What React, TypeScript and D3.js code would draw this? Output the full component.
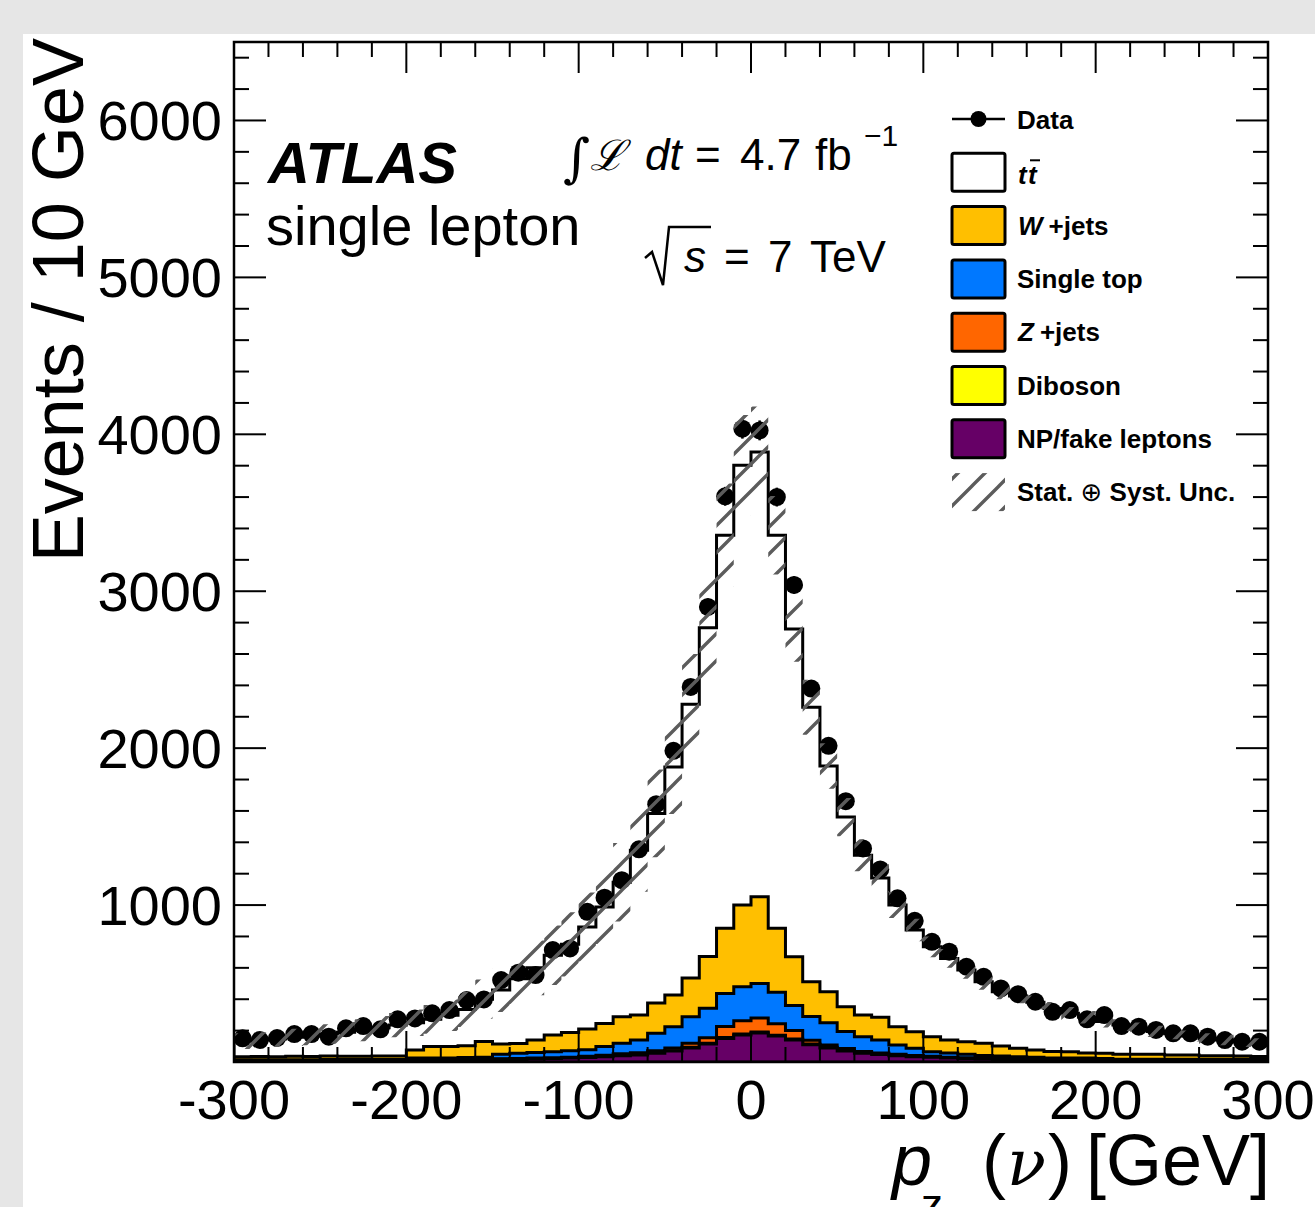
import React from 'react'
import * as d3 from 'd3'

// 10 GeV bins from -300 to 300
const binLow = d3.range(-300, 300, 10)

const dataCounts = [
  151, 140, 153, 178, 178, 161, 215, 229, 208, 272,
  278, 310, 331, 395, 399, 522, 569, 554, 713, 724,
  957, 1047, 1159, 1355, 1643, 1983, 2390, 2900, 3605, 4036,
  4025, 3600, 3040, 2380, 2015, 1662, 1361, 1227, 1043, 900,
  766, 703, 607, 543, 469, 432, 384, 320, 331, 272,
  299, 229, 225, 204, 183, 183, 161, 140, 129, 129,
]

const ttbar = [
  100, 105, 113, 121, 130, 140, 153, 165, 180, 197,
  174, 174, 200, 232, 270, 344, 412, 460, 508, 562,
  650, 742, 857, 1050, 1208, 1453, 1745, 2095, 2504, 2803,
  2834, 2504, 2089, 1750, 1439, 1209, 1019, 887, 775, 648,
  573, 520, 457, 392, 346, 333, 304, 274, 244, 228,
  203, 185, 165, 145, 135, 120, 110, 100, 90, 83,
]

const wjets = [
  18, 20, 19, 21, 20, 22, 20, 21, 23, 22,
  51, 73, 73, 75, 100, 65, 63, 80, 107, 116,
  132, 147, 170, 160, 193, 202, 246, 331, 416, 520,
  552, 408, 311, 221, 198, 157, 138, 145, 117, 106,
  95, 82, 79, 77, 64, 53, 46, 41, 41, 32,
  32, 32, 32, 32, 27, 27, 22, 22, 20, 17,
]

const singleTop = [
  8, 8, 8, 8, 8, 8, 8, 8, 8, 8,
  10, 8, 8, 9, 10, 29, 32, 35, 38, 42,
  42, 55, 67, 81, 111, 135, 170, 188, 211, 217,
  220, 202, 159, 151, 141, 109, 94, 82, 59, 45,
  29, 27, 23, 17, 16, 14, 12, 10, 11, 12,
  14, 9, 9, 9, 9, 11, 11, 11, 11, 11,
]

const zjets = [
  2, 2, 2, 2, 2, 2, 2, 2, 2, 2,
  4, 4, 4, 4, 4, 4, 4, 4, 4, 4,
  6, 8, 10, 12, 15, 18, 25, 35, 70, 85,
  90, 72, 55, 25, 15, 12, 10, 8, 7, 6,
  5, 4, 4, 4, 4, 4, 4, 4, 4, 4,
  2, 2, 2, 2, 2, 2, 2, 2, 2, 2,
]

const diboson = [
  1, 1, 1, 1, 1, 1, 1, 1, 1, 1,
  1, 1, 1, 1, 1, 1, 1, 1, 1, 1,
  2, 2, 2, 2, 2, 2, 4, 4, 6, 6,
  6, 6, 6, 4, 4, 4, 2, 2, 2, 2,
  2, 1, 1, 1, 1, 1, 1, 1, 1, 1,
  1, 1, 1, 1, 1, 1, 1, 1, 1, 1,
]

const npFake = [
  4, 4, 4, 4, 4, 5, 5, 5, 5, 5,
  10, 12, 12, 14, 15, 16, 18, 20, 22, 25,
  28, 33, 40, 45, 55, 70, 90, 115, 150, 172,
  185, 165, 140, 110, 90, 70, 55, 48, 40, 34,
  30, 26, 22, 20, 17, 15, 13, 11, 9, 8,
  6, 6, 6, 6, 6, 4, 4, 4, 4, 4,
]

// stat (+) syst uncertainty on the total prediction
const totalUnc = [
  50, 50, 52, 55, 58, 62, 66, 70, 74, 78,
  85, 92, 100, 112, 125, 140, 160, 175, 190, 205,
  220, 235, 250, 265, 280, 300, 320, 330, 330, 320,
  290, 250, 210, 175, 145, 122, 102, 92, 82, 72,
  66, 60, 55, 50, 48, 46, 44, 42, 40, 40,
  38, 38, 36, 36, 35, 35, 34, 34, 33, 33,
]

const xTicks = [-300, -200, -100, 0, 100, 200, 300]
const yTicks = [1000, 2000, 3000, 4000, 5000, 6000]

// bottom to top
const samples = [
  { key: 'np', values: npFake, color: '#660066' },
  { key: 'diboson', values: diboson, color: '#ffff00' },
  { key: 'zjets', values: zjets, color: '#ff6600' },
  { key: 'stop', values: singleTop, color: '#0078ff' },
  { key: 'wjets', values: wjets, color: '#ffbf00' },
  { key: 'ttbar', values: ttbar, color: '#ffffff' },
]

const legendItems = [
  { key: 'ttbar', color: '#ffffff' },
  { key: 'wjets', color: '#ffbf00' },
  { key: 'stop', color: '#0078ff' },
  { key: 'zjets', color: '#ff6600' },
  { key: 'diboson', color: '#ffff00' },
  { key: 'np', color: '#660066' },
]

const FONT = "'Liberation Sans', Arial, Helvetica, sans-serif"

export default function App() {
  const W = 1315
  const H = 1207
  const left = 234, right = 1268, top = 42, bottom = 1062

  const x = d3.scaleLinear().domain([-300, 300]).range([left, right])
  const y = d3.scaleLinear().domain([0, 6500]).range([bottom, top])

  const rows = binLow.map((lo, i) => {
    const r: any = { lo }
    samples.forEach(s => { r[s.key] = s.values[i] })
    return r
  })
  const series = d3.stack().keys(samples.map(s => s.key))(rows)

  const area = d3.area<any>().x(d => x(d.x)).y0(d => y(d.y0)).y1(d => y(d.y1))
  const steps = (lo: (i: number) => number, hi: (i: number) => number) =>
    binLow.flatMap((b, i) => [
      { x: b, y0: lo(i), y1: hi(i) },
      { x: b + 10, y0: lo(i), y1: hi(i) },
    ])

  const total = binLow.map((_, i) => series[series.length - 1][i][1])

  const xMinor = d3.range(-300, 301, 20)
  const yMinor = d3.range(0, 6501, 200)

  const legX = 952, legW = 53, legH = 38
  const rowY = (k: number) => 119 + k * 53.3

  return (
    <svg width={W} height={H} style={{ position: 'absolute', left: 0, top: 0 }}
      fontFamily={FONT}>
      <defs>
        <clipPath id="plotClip">
          <rect x={left} y={top} width={right - left} height={bottom - top} />
        </clipPath>
        <pattern id="hatch" patternUnits="userSpaceOnUse" width={27} height={27}>
          <path d="M-2,29 L29,-2 M-15.5,15.5 L15.5,-15.5 M11.5,42.5 L42.5,11.5" stroke="#5c5c5c" strokeWidth={3.4} />
        </pattern>
      </defs>

      <rect x={0} y={0} width={W} height={H} fill="#e6e6e6" />
      <rect x={23} y={34} width={W - 23} height={H - 34} fill="#ffffff" />

      {/* stacked histograms, drawn like ROOT: cumulative from the top down */}
      <g clipPath="url(#plotClip)">
        {[...series].reverse().map((s, k) => {
          const sample = samples[samples.length - 1 - k]
          return (
            <path key={sample.key}
              d={area(steps(() => 0, i => s[i][1])) || ''}
              fill={sample.color} stroke="#000" strokeWidth={3} strokeLinejoin="miter" />
          )
        })}

        {/* data */}
        {dataCounts.map((d, i) => {
          const cx = x(binLow[i] + 5)
          const e = Math.sqrt(d)
          return (
            <g key={i}>
              <line x1={cx} x2={cx} y1={y(d - e)} y2={y(d + e)} stroke="#000" strokeWidth={2.5} />
              <circle cx={cx} cy={y(d)} r={9} fill="#000" />
            </g>
          )
        })}

        {/* uncertainty band */}
        <path d={area(steps(i => total[i] - totalUnc[i], i => total[i] + totalUnc[i])) || ''}
          fill="url(#hatch)" stroke="none" />
      </g>

      {/* frame and ticks */}
      <rect x={left} y={top} width={right - left} height={bottom - top} fill="none" stroke="#000" strokeWidth={2.5} />
      {xMinor.map(v => {
        const major = v % 100 === 0
        const len = major ? 31 : 15
        return (
          <g key={'xt' + v}>
            <line x1={x(v)} x2={x(v)} y1={bottom} y2={bottom - len} stroke="#000" strokeWidth={2} />
            <line x1={x(v)} x2={x(v)} y1={top} y2={top + len} stroke="#000" strokeWidth={2} />
          </g>
        )
      })}
      {yMinor.map(v => {
        const major = v % 1000 === 0
        const len = major ? 32 : 15
        return (
          <g key={'yt' + v}>
            <line x1={left} x2={left + len} y1={y(v)} y2={y(v)} stroke="#000" strokeWidth={2} />
            <line x1={right} x2={right - len} y1={y(v)} y2={y(v)} stroke="#000" strokeWidth={2} />
          </g>
        )
      })}

      {xTicks.map(v => (
        <text key={'xl' + v} x={x(v)} y={1119} fontSize={56} textAnchor="middle">{v}</text>
      ))}
      {yTicks.map(v => (
        <text key={'yl' + v} x={222} y={y(v) + 20} fontSize={56} textAnchor="end">{v}</text>
      ))}

      {/* axis titles */}
      <text transform="translate(83,38) rotate(-90)" fontSize={72} textAnchor="end">Events / 10 GeV</text>
      <g fontSize={72}>
        <text x={892} y={1185} fontStyle="italic">p</text>
        <text x={921} y={1220} fontSize={44}>z</text>
        <text x={982} y={1185}>(</text>
        <text x={1007} y={1185} fontFamily="'DejaVu Serif', serif" fontStyle="italic" fontSize={64}>ν</text>
        <text x={1048} y={1185}>)</text>
        <text x={1086} y={1185}>[GeV]</text>
      </g>

      {/* labels */}
      <text x={268} y={183} fontSize={58} fontWeight="bold" fontStyle="italic">ATLAS</text>
      <text x={266} y={245} fontSize={56}>single lepton</text>

      <text x={563} y={176} fontSize={52} fontFamily="'DejaVu Serif', serif" fontStyle="italic">∫</text>
      <text x={590} y={170} fontSize={42} fontFamily="'DejaVu Serif', serif" fontStyle="italic">ℒ</text>
      <text x={645} y={170} fontSize={44} fontStyle="italic">dt</text>
      <text x={695} y={170} fontSize={44}>=</text>
      <text x={740} y={170} fontSize={44}>4.7</text>
      <text x={815} y={170} fontSize={44}>fb</text>
      <text x={864} y={146} fontSize={30}>−1</text>

      <path d="M645,258 L652,252 L663,285 L669,227 L711,227" fill="none" stroke="#000" strokeWidth={2.5} />
      <text x={684} y={272} fontSize={44} fontStyle="italic">s</text>
      <text x={724} y={272} fontSize={44}>=</text>
      <text x={768} y={272} fontSize={44}>7</text>
      <text x={810} y={272} fontSize={44}>TeV</text>

      {/* legend */}
      <g fontSize={26} fontWeight="bold">
        <line x1={legX} x2={legX + legW} y1={rowY(0)} y2={rowY(0)} stroke="#000" strokeWidth={2.5} />
        <circle cx={legX + legW / 2} cy={rowY(0)} r={8} fill="#000" />
        <text x={1017} y={rowY(0) + 10}>Data</text>

        {legendItems.map((it, k) => (
          <rect key={it.key} x={legX} y={rowY(k + 1) - legH / 2} width={legW} height={legH}
            fill={it.color} stroke="#000" strokeWidth={3} rx={2} />
        ))}
        <text x={1018} y={rowY(1) + 12} fontStyle="italic">t</text>
        <text x={1028} y={rowY(1) + 12} fontStyle="italic">t</text>
        <line x1={1030} x2={1040} y1={rowY(1) - 12} y2={rowY(1) - 12} stroke="#000" strokeWidth={2} />
        <text x={1018} y={rowY(2) + 9}><tspan fontStyle="italic">W</tspan><tspan dx={6}>+jets</tspan></text>
        <text x={1017} y={rowY(3) + 9}>Single top</text>
        <text x={1018} y={rowY(4) + 9}><tspan fontStyle="italic">Z</tspan><tspan dx={6}>+jets</tspan></text>
        <text x={1017} y={rowY(5) + 9}>Diboson</text>
        <text x={1017} y={rowY(6) + 9}>NP/fake leptons</text>

        <rect x={legX} y={rowY(7) - legH / 2} width={legW} height={legH} fill="url(#hatch)" />
        <text x={1017} y={rowY(7) + 9}>Stat. <tspan fontWeight="normal" fontFamily="'DejaVu Sans', sans-serif">⊕</tspan> Syst. Unc.</text>
      </g>
    </svg>
  )
}
